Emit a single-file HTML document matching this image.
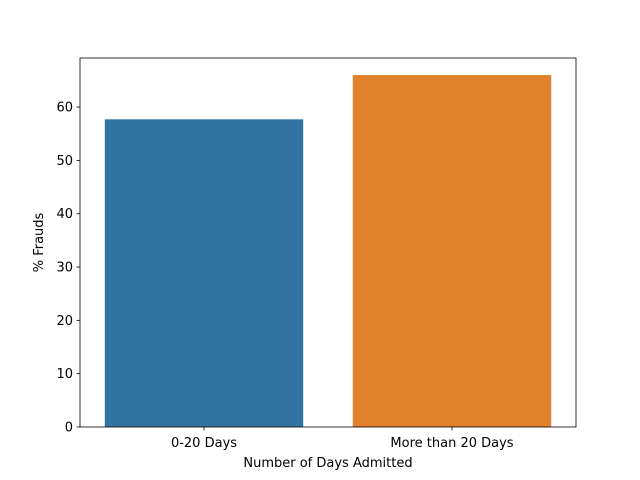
<!DOCTYPE html>
<html><head><meta charset="utf-8"><style>body{margin:0;background:#fff}svg{display:block;font-family:"DejaVu Sans","Liberation Sans",sans-serif}</style></head>
<body>
<svg id="chart" width="640" height="480"></svg>
<script>
const categories = ["0-20 Days", "More than 20 Days"];
const values = [57.7, 66.0];
const colors = ["#3274a1", "#e1812c"];
const yTicks = [0, 10, 20, 30, 40, 50, 60];
const L = 80, R = 576, T = 58, B = 427, yMax = 69.2;
const ns = "http://www.w3.org/2000/svg";
const svg = document.getElementById("chart");
function y(v){ return B - v / yMax * (B - T); }
function x(i){ return L + (i + 0.5) / categories.length * (R - L); }
const bw = 0.8 * (R - L) / categories.length;
function add(tag, attrs, text){ const e = document.createElementNS(ns, tag); for (const k in attrs) e.setAttribute(k, attrs[k]); if (text !== undefined) e.textContent = text; svg.appendChild(e); return e; }
values.forEach((v, i) => {
  const r = add("rect", {x: x(i) - bw/2, y: y(v), width: bw, height: B - y(v), fill: colors[i]});
  
  
  const t = add("line", {x1: x(i), x2: x(i), y1: B, y2: B + 3.5, stroke: "#000", "stroke-width": 0.8});
  
  
  const lb = add("text", {x: x(i), y: B + 20, "text-anchor": "middle", "font-size": 13}, categories[i]);
  
  
});
yTicks.forEach(v => {
  const t = add("line", {x1: L - 3.5, x2: L, y1: y(v), y2: y(v), stroke: "#000", "stroke-width": 0.8});
  
  
  const lb = add("text", {x: L - 7, y: y(v) + 4.5, "text-anchor": "end", "font-size": 13}, String(v));
  
  
});
const f = add("rect", {x: L, y: T, width: R - L, height: B - T, fill: "none", stroke: "#000", "stroke-width": 0.8});


const xt = add("text", {x: (L + R) / 2, y: 467, "text-anchor": "middle", "font-size": 13}, "Number of Days Admitted");


const yt = add("text", {x: 0, y: 0, "text-anchor": "middle", "font-size": 13, transform: "translate(43," + ((T + B) / 2) + ") rotate(-90)"}, "% Frauds");


</script>
</body></html>
